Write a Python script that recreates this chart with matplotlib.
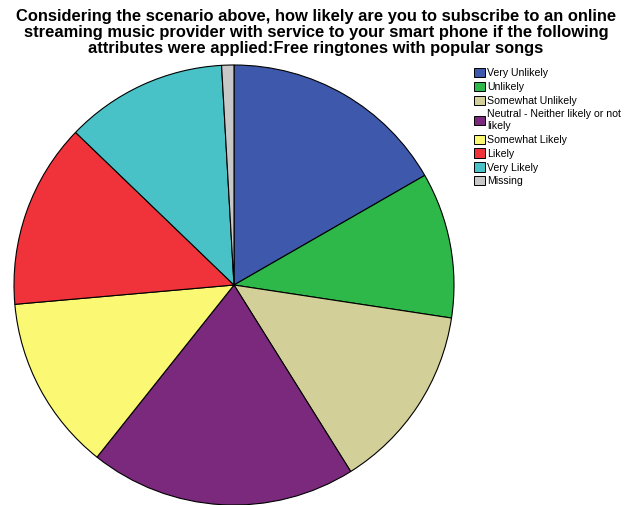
import matplotlib
matplotlib.use("Agg")
import matplotlib.pyplot as plt
from matplotlib.patches import Patch

plt.rcParams['font.family'] = ['Liberation Sans', 'DejaVu Sans']

categories = ["Very Unlikely", "Unlikely", "Somewhat Unlikely",
              "Neutral - Neither likely or not\nlikely", "Somewhat Likely",
              "Likely", "Very Likely", "Missing"]
percents = [16.7, 10.7, 13.7, 19.6, 12.9, 13.6, 11.9, 0.9]
colors = ["#3E58AC", "#2EB84A", "#D3CF98", "#7B297C", "#FBF874",
          "#F0323A", "#48C2C6", "#C8C8C8"]

title = ("Considering the scenario above, how likely are you to subscribe to an online\n"
         "streaming music provider with service to your smart phone if the following\n"
         "attributes were applied:Free ringtones with popular songs")

fig = plt.figure(figsize=(6.28, 5.05), dpi=100)
ax = fig.add_axes([14 / 628, 0.0, 440 / 628, 440 / 505])
ax.pie(percents, colors=colors, startangle=90, counterclock=False,
       wedgeprops=dict(edgecolor="black", linewidth=0.8))
ax.set_xlim(-1.0, 1.0)
ax.set_ylim(-1.0, 1.0)
ax.set_aspect("equal")
ax.set_axis_off()

fig.text(0.503, 1 - 9 / 505, title, ha="center", va="top", fontsize=11.9,
         fontweight="bold", linespacing=1.1)

handles = [Patch(facecolor=c, edgecolor="black", linewidth=0.7) for c in colors]
fig.legend(handles, categories, loc="upper left",
           bbox_to_anchor=(474 / 628, 1 - 68 / 505), frameon=False,
           fontsize=7.6, handlelength=1.0, handleheight=1.0, handletextpad=0.25,
           labelspacing=0.33, borderpad=0, borderaxespad=0)

fig.savefig("out.png", dpi=100)
